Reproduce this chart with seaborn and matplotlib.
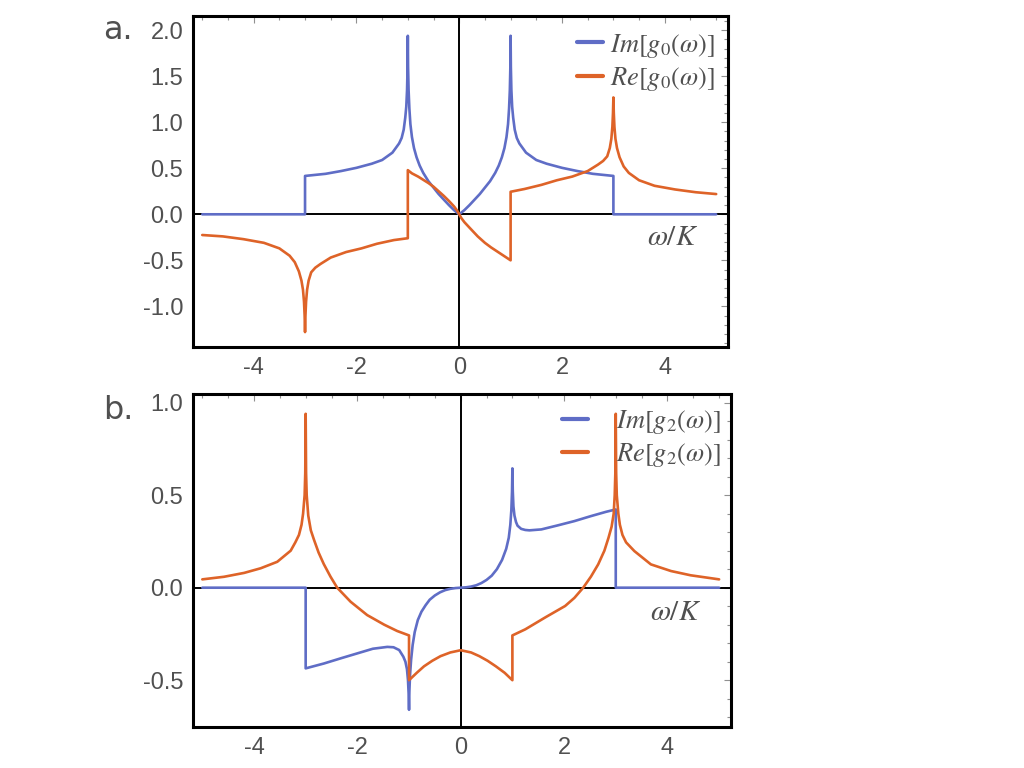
import pandas as pd
import matplotlib.pyplot as plt
import seaborn as sns
from matplotlib.ticker import MultipleLocator, FormatStrFormatter

# --- data (omega / K on x) ---

# panel a: Im[g0], Re[g0]
a_im_x = [-5.0, -3.0, -3.0, -2.6, -2.3, -2.0, -1.7, -1.5, -1.3, -1.17, -1.12, -1.08, -1.05, -1.03, -1.015, -1.005, -1.0,
          -0.995, -0.985, -0.97, -0.95, -0.92, -0.88, -0.83, -0.77, -0.7, -0.6, -0.5, -0.4, -0.3, -0.2, -0.1, 0.0,
          0.1, 0.2, 0.3, 0.4, 0.5, 0.6, 0.7, 0.77, 0.83, 0.88, 0.92, 0.95, 0.97, 0.985, 0.995, 1.0,
          1.005, 1.015, 1.03, 1.05, 1.08, 1.12, 1.17, 1.3, 1.5, 1.7, 2.0, 2.3, 2.6, 3.0, 3.0, 5.0]
a_im_y = [0.0, 0.0, 0.417, 0.44, 0.47, 0.505, 0.55, 0.59, 0.67, 0.77, 0.83, 0.92, 1.05, 1.17, 1.35, 1.6, 1.94,
          1.6, 1.35, 1.15, 0.98, 0.84, 0.72, 0.62, 0.53, 0.45, 0.36, 0.29, 0.22, 0.16, 0.1, 0.045, 0.0,
          0.045, 0.1, 0.16, 0.22, 0.29, 0.36, 0.45, 0.53, 0.62, 0.72, 0.84, 0.98, 1.15, 1.35, 1.6, 1.94,
          1.6, 1.35, 1.17, 1.05, 0.92, 0.83, 0.77, 0.67, 0.59, 0.55, 0.505, 0.47, 0.44, 0.417, 0.0, 0.0]

a_re_x = [-5.0, -4.6, -4.2, -3.8, -3.5, -3.3, -3.2, -3.12, -3.07, -3.04, -3.02, -3.008, -3.0,
          -2.992, -2.98, -2.96, -2.93, -2.88, -2.8, -2.7, -2.5, -2.2, -1.9, -1.6, -1.27, -1.0, -1.0,
          -0.92, -0.8, -0.7, -0.6, -0.5, -0.4, -0.3, -0.2, -0.1, -0.04, 0.0,
          0.04, 0.1, 0.2, 0.36, 0.5, 0.62, 0.81, 1.0, 1.0,
          1.27, 1.6, 1.9, 2.2, 2.5, 2.7, 2.8, 2.88, 2.93, 2.96, 2.98, 2.992, 3.0,
          3.008, 3.02, 3.04, 3.07, 3.12, 3.2, 3.3, 3.5, 3.8, 4.2, 4.6, 5.0]
a_re_y = [-0.225, -0.24, -0.27, -0.31, -0.37, -0.45, -0.52, -0.62, -0.72, -0.82, -0.95, -1.1, -1.28,
          -1.1, -0.95, -0.82, -0.72, -0.63, -0.58, -0.54, -0.47, -0.41, -0.37, -0.32, -0.28, -0.26, 0.48,
          0.445, 0.41, 0.375, 0.34, 0.3, 0.25, 0.2, 0.145, 0.085, 0.04, 0.0,
          -0.04, -0.085, -0.145, -0.24, -0.31, -0.36, -0.43, -0.5, 0.245,
          0.275, 0.32, 0.37, 0.41, 0.47, 0.54, 0.58, 0.63, 0.72, 0.82, 0.95, 1.1, 1.27,
          1.1, 0.95, 0.82, 0.72, 0.62, 0.52, 0.45, 0.37, 0.31, 0.27, 0.24, 0.22]

# panel b: Im[g2], Re[g2]
b_im_x = [-5.0, -3.0, -3.0, -2.65, -2.3, -2.0, -1.7, -1.42, -1.3, -1.19, -1.11, -1.07, -1.04, -1.02, -1.008, -1.0,
          -0.993, -0.98, -0.96, -0.93, -0.89, -0.83, -0.76, -0.68, -0.6, -0.5, -0.4, -0.3, -0.2, -0.1, 0.0,
          0.1, 0.2, 0.3, 0.4, 0.5, 0.6, 0.7, 0.8, 0.88, 0.93, 0.96, 0.98, 0.993, 1.0,
          1.008, 1.02, 1.04, 1.07, 1.1, 1.17, 1.25, 1.33, 1.56, 1.88, 2.2, 2.52, 2.81, 3.0, 3.0, 5.0]
b_im_y = [0.0, 0.0, -0.436, -0.41, -0.38, -0.355, -0.33, -0.32, -0.322, -0.337, -0.373, -0.4, -0.44, -0.5, -0.57, -0.66,
          -0.56, -0.47, -0.39, -0.31, -0.24, -0.175, -0.13, -0.095, -0.065, -0.042, -0.025, -0.013, -0.006, -0.002, 0.0,
          0.002, 0.006, 0.013, 0.025, 0.042, 0.065, 0.1, 0.15, 0.21, 0.27, 0.34, 0.42, 0.52, 0.645,
          0.52, 0.44, 0.39, 0.355, 0.335, 0.318, 0.312, 0.31, 0.315, 0.337, 0.36, 0.387, 0.41, 0.423, 0.0, 0.0]

b_re_x = [-5.0, -4.58, -4.19, -3.87, -3.55, -3.29, -3.2, -3.13, -3.08, -3.05, -3.02, -3.008, -3.0,
          -2.992, -2.98, -2.95, -2.9, -2.84, -2.75, -2.65, -2.52, -2.39, -2.13, -1.81, -1.48, -1.23, -1.0, -1.0,
          -0.85, -0.71, -0.55, -0.39, -0.2, 0.0, 0.2, 0.36, 0.52, 0.68, 0.85, 1.0, 1.0,
          1.25, 1.64, 2.02, 2.2, 2.37, 2.52, 2.66, 2.78, 2.86, 2.92, 2.96, 2.98, 2.992, 3.0,
          3.008, 3.02, 3.05, 3.08, 3.13, 3.2, 3.36, 3.68, 4.07, 4.45, 5.0]
b_re_y = [0.045, 0.059, 0.08, 0.105, 0.14, 0.2, 0.245, 0.285, 0.34, 0.4, 0.5, 0.62, 0.94,
          0.62, 0.5, 0.39, 0.31, 0.26, 0.19, 0.128, 0.06, 0.0, -0.076, -0.148, -0.2, -0.234, -0.258, -0.5,
          -0.46, -0.425, -0.395, -0.37, -0.35, -0.338, -0.35, -0.37, -0.395, -0.425, -0.46, -0.5, -0.258,
          -0.225, -0.16, -0.099, -0.055, 0.0, 0.06, 0.126, 0.2, 0.27, 0.33, 0.4, 0.5, 0.62, 0.94,
          0.62, 0.5, 0.4, 0.34, 0.285, 0.245, 0.198, 0.126, 0.09, 0.067, 0.045]

blue = '#5F6DC6'
orange = '#DE6328'
gray = '#505050'

sns.set_style('white')
plt.rcParams['font.family'] = ['Liberation Sans', 'DejaVu Sans']
plt.rcParams['mathtext.fontset'] = 'stix'
plt.rcParams['axes.unicode_minus'] = False

fig = plt.figure(figsize=(10.24, 7.68), dpi=100)
ax_a = fig.add_axes([193/1024, 1-347/768, 535/1024, 331/768])
ax_b = fig.add_axes([193/1024, 1-727/768, 538/1024, 333/768])

panels = [
    (ax_a, a_im_x, a_im_y, a_re_x, a_re_y, '0', (-1.442, 2.155), [-1.0, -0.5, 0.0, 0.5, 1.0, 1.5, 2.0], -0.25),
    (ax_b, b_im_x, b_im_y, b_re_x, b_re_y, '2', (-0.753, 1.047), [-0.5, 0.0, 0.5, 1.0], -0.13),
]

for ax, imx, imy, rex, rey, n, ylim, yticks, wk_y in panels:
    ax.axhline(0, color='black', lw=1.4, zorder=1)
    ax.axvline(0, color='black', lw=1.4, zorder=1)

    im_df = pd.DataFrame({'w': imx, 'g': imy})
    re_df = pd.DataFrame({'w': rex, 'g': rey})
    sns.lineplot(data=im_df, x='w', y='g', ax=ax, color=blue, lw=1.9, sort=False, estimator=None,
                 label=r'$Im[g_%s(\omega)]$' % n, zorder=3)
    sns.lineplot(data=re_df, x='w', y='g', ax=ax, color=orange, lw=1.9, sort=False, estimator=None,
                 label=r'$Re[g_%s(\omega)]$' % n, zorder=3)

    ax.set_xlim(-5.18, 5.23)
    ax.set_ylim(*ylim)
    ax.set_xlabel('')
    ax.set_ylabel('')
    ax.set_xticks([-4, -2, 0, 2, 4])
    ax.set_yticks(yticks)
    ax.xaxis.set_minor_locator(MultipleLocator(0.5))
    ax.yaxis.set_minor_locator(MultipleLocator(0.1))
    ax.yaxis.set_major_formatter(FormatStrFormatter('%.1f'))
    ax.tick_params(which='both', direction='in', top=True, right=True, color='#909090', width=0.8)
    ax.tick_params(which='major', length=5, labelsize=17, labelcolor=gray, pad=7)
    ax.tick_params(which='minor', length=3)
    for s in ax.spines.values():
        s.set_color('black')
        s.set_linewidth(2.2)

    ax.text(4.16, wk_y, r'$\omega/K$', fontsize=21, color=gray, ha='center', va='center')

leg_a = ax_a.legend(loc='upper right', bbox_to_anchor=(0.995, 0.985), frameon=False, fontsize=19,
                    handlelength=1.0, handletextpad=0.25, labelspacing=0.2, borderaxespad=0)
leg_b = ax_b.legend(loc='upper right', bbox_to_anchor=(1.0, 0.99), frameon=False, fontsize=19,
                    handlelength=1.0, handletextpad=1.05, labelspacing=0.2, borderaxespad=0)
for leg in (leg_a, leg_b):
    for t in leg.get_texts():
        t.set_color(gray)
    for h in leg.get_lines():
        h.set_linewidth(3)

fig.text(103/1024, 1-39/768, 'a.', fontsize=23, color=gray, family='DejaVu Sans')
fig.text(103/1024, 1-419/768, 'b.', fontsize=23, color=gray, family='DejaVu Sans')

fig.savefig('out.png', dpi=100)
